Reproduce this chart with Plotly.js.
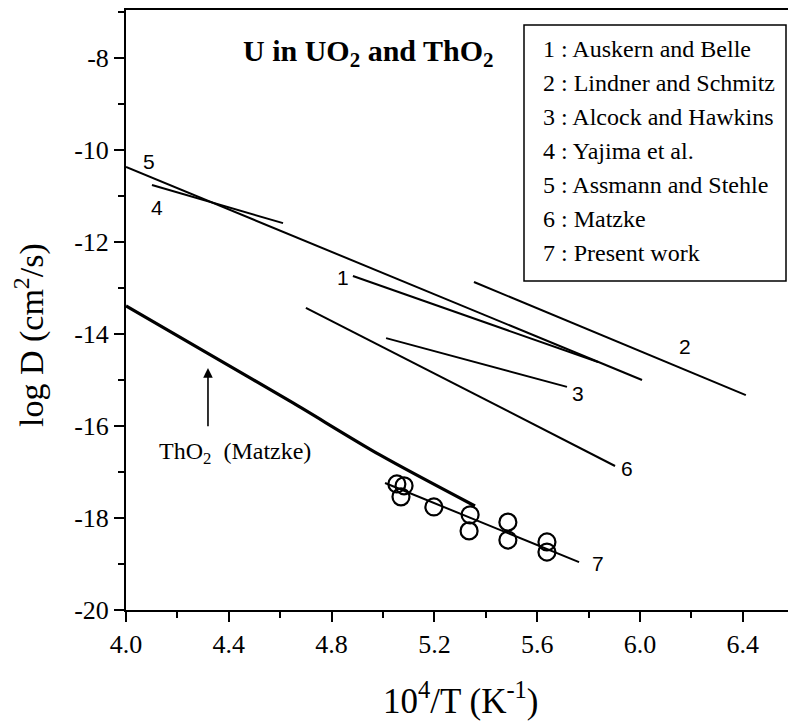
<!DOCTYPE html>
<html>
<head>
<meta charset="utf-8">
<script src="https://cdn.plot.ly/plotly-3.0.1.min.js"></script>
<style>html,body{margin:0;padding:0;background:#fff;}</style>
</head>
<body>
<div id="chart" style="width:788px;height:722px;"></div>
<script>
// ---- data ----
const legendNames = ['1 : Auskern and Belle','2 : Lindner and Schmitz','3 : Alcock and Hawkins','4 : Yajima et al.','5 : Assmann and Stehle','6 : Matzke','7 : Present work'];
const line1X = [4.883, 5.837]; const line1Y = [-12.74, -14.61];
const line2X = [5.354, 6.412]; const line2Y = [-12.87, -15.33];
const line3X = [5.012, 5.716]; const line3Y = [-14.09, -15.15];
const line4X = [4.101, 4.611]; const line4Y = [-10.76, -11.59];
const line5X = [4.000, 6.008]; const line5Y = [-10.37, -15.00];
const line6X = [4.700, 5.903]; const line6Y = [-13.43, -16.87];
const line7X = [5.008, 5.763]; const line7Y = [-17.24, -18.96];
const thoX = [4.000, 4.315, 4.650, 4.988, 5.358];
const thoY = [-13.39, -14.41, -15.50, -16.63, -17.74];
const expX = [5.054, 5.082, 5.070, 5.198, 5.339, 5.335, 5.486, 5.486, 5.638, 5.638];
const expY = [-17.26, -17.30, -17.54, -17.76, -17.93, -18.28, -18.09, -18.48, -18.52, -18.74];
const curveLabels = ['1','2','3','4','5','6','7'];
const curveLabelX = [4.844, 6.175, 5.759, 4.121, 4.090, 5.949, 5.837];
const curveLabelY = [-12.78, -14.28, -15.30, -11.26, -10.26, -16.93, -18.98];
const xTickVals = [4.0, 4.4, 4.8, 5.2, 5.6, 6.0, 6.4];
const xTickText = ['4.0','4.4','4.8','5.2','5.6','6.0','6.4'];
const yTickVals = [-20, -18, -16, -14, -12, -10, -8];
const yTickText = ['-20','-18','-16','-14','-12','-10','-8'];

// ---- drawing ----
const serif = 'Liberation Serif';
const sans = 'Liberation Sans';
function seg(x, y, w, shape) {
  return {x: x, y: y, type: 'scatter', mode: 'lines', line: {color: '#000', width: w, shape: shape || 'linear', smoothing: 0.8}, showlegend: false, hoverinfo: 'skip'};
}
const traces = [
  seg(line1X, line1Y, 2), seg(line2X, line2Y, 2), seg(line3X, line3Y, 2),
  seg(line4X, line4Y, 2), seg(line5X, line5Y, 2), seg(line6X, line6Y, 2),
  seg(line7X, line7Y, 2), seg(thoX, thoY, 3.2, 'spline'),
  {x: expX, y: expY, type: 'scatter', mode: 'markers', showlegend: false,
   marker: {symbol: 'circle-open', size: 17, color: '#000', line: {color: '#000', width: 2.2}}}
];

const annotations = [];
curveLabels.forEach((t, i) => annotations.push({
  x: curveLabelX[i], y: curveLabelY[i], xref: 'x', yref: 'y', text: t, showarrow: false,
  font: {family: sans, size: 21, color: '#000'}
}));
// title
annotations.push({x: 4.942, y: -7.89, xref: 'x', yref: 'y', showarrow: false,
  text: '<b>U in UO<sub>2</sub> and ThO<sub>2</sub></b>', font: {family: serif, size: 30, color: '#000'}});
// ThO2 arrow + text
annotations.push({x: 4.319, y: -14.74, ax: 4.319, ay: -16.04, axref: 'x', ayref: 'y', xref: 'x', yref: 'y',
  text: '', showarrow: true, arrowhead: 2, arrowsize: 1.2, arrowwidth: 1.6, arrowcolor: '#000'});
annotations.push({x: 4.424, y: -16.59, xref: 'x', yref: 'y', showarrow: false,
  text: 'ThO<sub>2</sub>  (Matzke)', font: {family: serif, size: 24, color: '#000'}});
// legend text
legendNames.forEach((t, i) => annotations.push({
  x: (541 - 126) / 662, y: (610 - (49 + 34 * i)) / 600, xref: 'paper', yref: 'paper', xanchor: 'left', yanchor: 'middle',
  text: t, showarrow: false, font: {family: serif, size: 24, color: '#000'}
}));
// axis titles
annotations.push({x: (460 - 126) / 662, y: (610 - 698) / 600, xref: 'paper', yref: 'paper', showarrow: false,
  xanchor: 'center', yanchor: 'middle',
  text: '10<sup>4</sup>/T (K<sup>-1</sup>)', font: {family: serif, size: 35, color: '#000'}});
annotations.push({x: (29 - 126) / 662, y: (610 - 335) / 600, xref: 'paper', yref: 'paper', showarrow: false, textangle: -90,
  xanchor: 'center', yanchor: 'middle',
  text: 'log D (cm<sup>2</sup>/s)', font: {family: serif, size: 34, color: '#000'}});

const tickFont = {family: serif, size: 26, color: '#000'};
const layout = {
  width: 788, height: 722,
  margin: {l: 126, r: 0, t: 10, b: 112},
  paper_bgcolor: '#fff', plot_bgcolor: '#fff',
  font: {family: serif, size: 26, color: '#000'},
  showlegend: false,
  xaxis: {
    range: [4.0, 6.576], showgrid: false, zeroline: false,
    showline: true, linecolor: '#000', linewidth: 2, mirror: true,
    tickmode: 'array', tickvals: xTickVals, ticktext: xTickText,
    ticks: 'outside', ticklen: 10, tickwidth: 2, tickcolor: '#000',
    minor: {dtick: 0.2, tick0: 4.0, ticks: 'outside', ticklen: 6, tickwidth: 2, tickcolor: '#000', showgrid: false},
    tickfont: tickFont
  },
  yaxis: {
    range: [-20, -6.957], showgrid: false, zeroline: false,
    showline: true, linecolor: '#000', linewidth: 2,
    tickmode: 'array', tickvals: yTickVals, ticktext: yTickText,
    ticks: 'outside', ticklen: 10, tickwidth: 2, tickcolor: '#000',
    minor: {dtick: 1, tick0: -20, ticks: 'outside', ticklen: 6, tickwidth: 2, tickcolor: '#000', showgrid: false},
    tickfont: tickFont
  },
  shapes: [{type: 'rect', xref: 'paper', yref: 'paper', x0: (524 - 126) / 662, x1: (786 - 126) / 662,
    y0: (610 - 281) / 600, y1: (610 - 25) / 600, line: {color: '#000', width: 1.5}, fillcolor: 'rgba(0,0,0,0)'}],
  annotations: annotations
};
Plotly.newPlot('chart', traces, layout, {displayModeBar: false, staticPlot: true});
</script>
</body>
</html>
